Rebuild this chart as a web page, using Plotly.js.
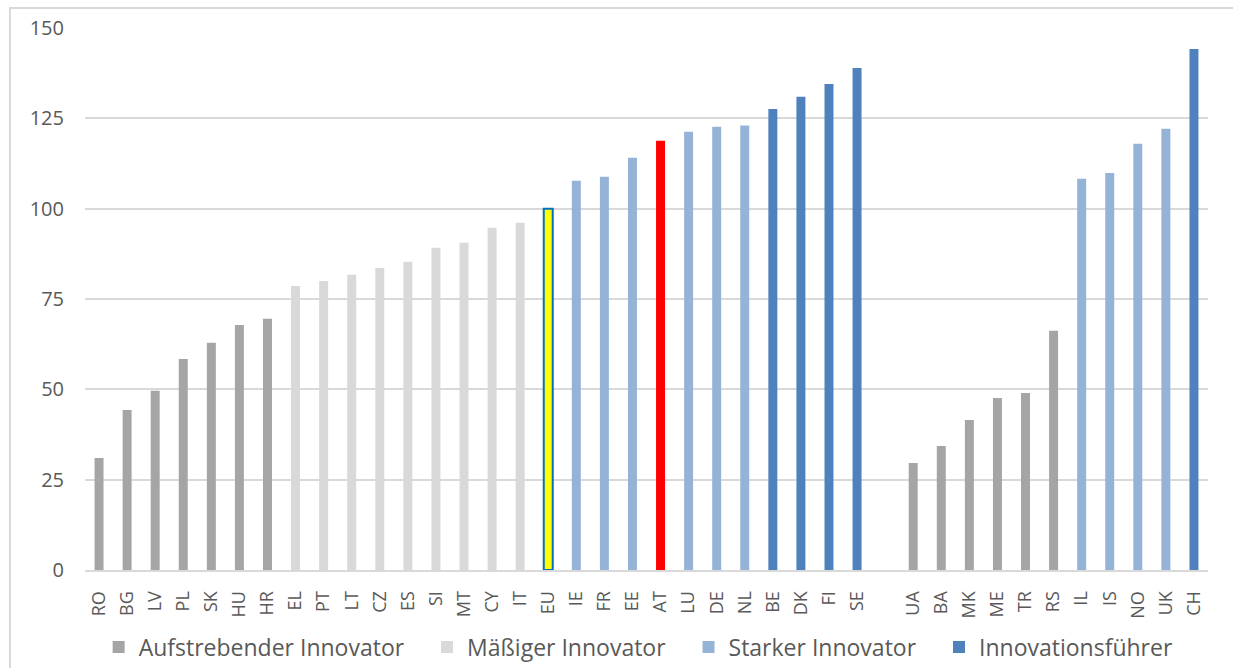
<!DOCTYPE html>
<html>
<head>
<meta charset="utf-8">
<script src="https://cdn.plot.ly/plotly-3.0.1.min.js"></script>
<style>
  html, body { margin: 0; padding: 0; background: #ffffff; }
  #wrap { position: relative; width: 1233px; height: 668px; overflow: hidden; }
  #frame { position: absolute; left: 9px; top: 7px; width: 1240px; height: 680px;
           border-left: 2px solid #d9d9d9; border-top: 2px solid #d9d9d9; box-sizing: border-box; }
  #chart { position: absolute; left: 0; top: 0; width: 1233px; height: 668px; }
</style>
</head>
<body>
<div id="wrap">
  <div id="frame"></div>
  <div id="chart"></div>
</div>
<script>
// Summary Innovation Index by country, EU = 100
// Full category order on the x axis (blank slot separates EU members from other countries)
const categories = ["RO","BG","LV","PL","SK","HU","HR",
  "EL","PT","LT","CZ","ES","SI","MT","CY","IT",
  "EU","IE","FR","EE","AT","LU","DE","NL","BE","DK","FI","SE",
  " ",
  "UA","BA","MK","ME","TR","RS","IL","IS","NO","UK","CH"];

// Aufstrebender Innovator
const emergingLabels = ["RO","BG","LV","PL","SK","HU","HR","UA","BA","MK","ME","TR","RS"];
const emergingValues = [31.0, 44.3, 49.6, 58.4, 62.9, 67.8, 69.5, 29.6, 34.3, 41.5, 47.6, 49.0, 66.2];

// Mäßiger Innovator
const moderateLabels = ["EL","PT","LT","CZ","ES","SI","MT","CY","IT"];
const moderateValues = [78.6, 80.0, 81.7, 83.6, 85.3, 89.2, 90.6, 94.7, 96.1];

// Starker Innovator
const strongLabels = ["IE","FR","EE","LU","DE","NL","IL","IS","NO","UK"];
const strongValues = [107.7, 108.8, 114.1, 121.3, 122.7, 123.0, 108.3, 109.9, 118.0, 122.1];

// Innovationsführer
const leaderLabels = ["BE","DK","FI","SE","CH"];
const leaderValues = [127.6, 131.0, 134.5, 138.9, 144.2];

// Highlighted bars
const euLabel = ["EU"];
const euValue = [100];
const atLabel = ["AT"];
const atValue = [118.8];

const yTicks = [0, 25, 50, 75, 100, 125, 150];

const FONT = '"Open Sans", "Noto Sans", sans-serif';
const TEXT = '#595959';
// non-breaking spaces widen the gap between legend entries
const PAD = '\u00a0\u00a0\u00a0';

function barTrace(name, x, y, color, extra) {
  return Object.assign({
    type: 'bar', name: name, x: x, y: y,
    marker: { color: color, line: { width: 0 } },
    hoverinfo: 'x+y'
  }, extra || {});
}

const traces = [
  barTrace('Aufstrebender Innovator' + PAD, emergingLabels, emergingValues, '#a5a5a5'),
  barTrace('Mäßiger Innovator' + PAD, moderateLabels, moderateValues, '#d9d9d9'),
  barTrace('Starker Innovator' + PAD, strongLabels, strongValues, '#95b3d7'),
  barTrace('Innovationsführer', leaderLabels, leaderValues, '#4f81bd'),
  barTrace('EU', euLabel, euValue, '#ffff00', {
    showlegend: false,
    marker: { color: '#ffff00', line: { color: '#0070c0', width: 2 } }
  }),
  barTrace('AT', atLabel, atValue, '#ff0000', { showlegend: false })
];

const layout = {
  width: 1233,
  height: 668,
  paper_bgcolor: 'rgba(0,0,0,0)',
  plot_bgcolor: 'rgba(0,0,0,0)',
  margin: { l: 85, r: 25, t: 28, b: 98, autoexpand: false },
  font: { family: FONT, color: TEXT },
  barmode: 'overlay',
  bargap: 0.68,
  showlegend: true,
  legend: {
    orientation: 'h',
    x: 0.493, xanchor: 'center',
    y: -0.142, yanchor: 'middle',
    font: { family: FONT, size: 23, color: TEXT },
    traceorder: 'normal'
  },
  xaxis: {
    type: 'category',
    categoryorder: 'array',
    categoryarray: categories,
    tickvals: categories,
    ticktext: categories,
    tickangle: -90,
    tickfont: { family: FONT, size: 18, color: TEXT },
    ticklabelstandoff: 12,
    showgrid: false,
    showline: true,
    linecolor: '#d9d9d9',
    linewidth: 2,
    ticks: '',
    fixedrange: true
  },
  yaxis: {
    range: [0, 150],
    tickvals: yTicks,
    ticktext: yTicks.map(String),
    tickfont: { family: FONT, size: 20, color: TEXT },
    ticklabelstandoff: 20,
    showgrid: true,
    gridcolor: '#d9d9d9',
    gridwidth: 2,
    zeroline: false,
    showline: false,
    ticks: '',
    fixedrange: true
  }
};

Plotly.newPlot('chart', traces, layout, { displayModeBar: false, responsive: false });
</script>
</body>
</html>
